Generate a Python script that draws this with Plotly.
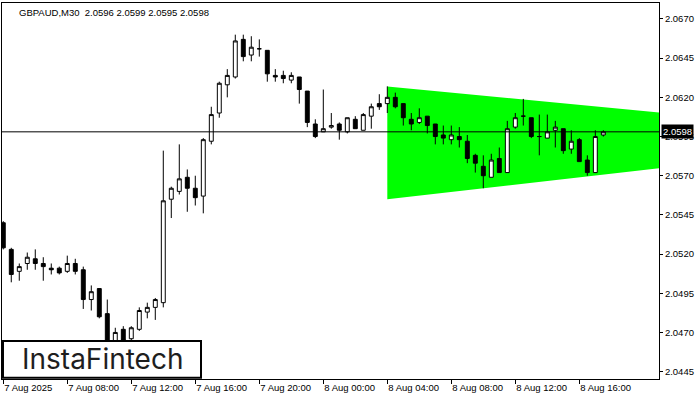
import plotly.graph_objects as go

# ---- data (GBPAUD M30, bars indexed from 7 Aug 04:00) ----
bar_index = list(range(76))

opens = [2.0540, 2.0523, 2.0509, 2.0514, 2.0517, 2.0514, 2.0511, 2.0511, 2.0509, 2.0514,
         2.0510, 2.0491, 2.0498, 2.0482, 2.0463, 2.0472, 2.0466, 2.0472, 2.0483, 2.0486,
         2.0489, 2.0555, 2.0560, 2.0569, 2.0562, 2.0557, 2.0592, 2.0610, 2.0628, 2.0633,
         2.0657, 2.0647, 2.0651, 2.0650, 2.0634, 2.0634, 2.0631, 2.0633, 2.0624, 2.0603,
         2.0598, 2.0601, 2.0603, 2.0598, 2.0606, 2.0599, 2.0608, 2.0616, 2.0616, 2.0620,
         2.0616, 2.0606, 2.0604, 2.0608, 2.0603, 2.0596, 2.0593, 2.0595, 2.0592, 2.0583,
         2.0576, 2.0569, 2.0581, 2.0572, 2.0601, 2.0608, 2.0607, 2.0595, 2.0594, 2.0599,
         2.0600, 2.0587, 2.0593, 2.0580, 2.0572, 2.0596]

highs = [2.0541, 2.0524, 2.0514, 2.0521, 2.0523, 2.0518, 2.0514, 2.0512, 2.0519, 2.0517,
         2.0512, 2.0500, 2.0498, 2.0491, 2.0473, 2.0474, 2.0474, 2.0486, 2.0489, 2.0492,
         2.0586, 2.0563, 2.0590, 2.0574, 2.0570, 2.0594, 2.0614, 2.0630, 2.0638, 2.0660,
         2.0660, 2.0659, 2.0657, 2.0650, 2.0638, 2.0637, 2.0636, 2.0633, 2.0624, 2.0606,
         2.0625, 2.0610, 2.0604, 2.0607, 2.0608, 2.0610, 2.0616, 2.0622, 2.0627, 2.0623,
         2.0616, 2.0610, 2.0613, 2.0608, 2.0603, 2.0602, 2.0602, 2.0601, 2.0596, 2.0584,
         2.0583, 2.0584, 2.0588, 2.0605, 2.0610, 2.0619, 2.0607, 2.0609, 2.0609, 2.0605,
         2.0600, 2.0599, 2.0594, 2.0583, 2.0599, 2.0599]

lows = [2.0523, 2.0502, 2.0503, 2.0510, 2.0510, 2.0503, 2.0507, 2.0507, 2.0508, 2.0507,
        2.0485, 2.0484, 2.0479, 2.0458, 2.0460, 2.0462, 2.0463, 2.0471, 2.0479, 2.0478,
        2.0486, 2.0543, 2.0558, 2.0547, 2.0551, 2.0546, 2.0590, 2.0607, 2.0620, 2.0632,
        2.0643, 2.0643, 2.0646, 2.0630, 2.0630, 2.0629, 2.0629, 2.0616, 2.0601, 2.0594,
        2.0598, 2.0600, 2.0593, 2.0597, 2.0600, 2.0599, 2.0600, 2.0612, 2.0610, 2.0613,
        2.0602, 2.0599, 2.0603, 2.0597, 2.0590, 2.0590, 2.0590, 2.0588, 2.0578, 2.0572,
        2.0562, 2.0569, 2.0572, 2.0572, 2.0600, 2.0602, 2.0594, 2.0583, 2.0594, 2.0588,
        2.0584, 2.0584, 2.0579, 2.0570, 2.0572, 2.0595]

closes = [2.0524, 2.0507, 2.0512, 2.0518, 2.0514, 2.0512, 2.0510, 2.0508, 2.0514, 2.0509,
          2.0491, 2.0496, 2.0480, 2.0462, 2.0470, 2.0465, 2.0473, 2.0484, 2.0486, 2.0491,
          2.0554, 2.0562, 2.0568, 2.0562, 2.0556, 2.0593, 2.0609, 2.0629, 2.0634, 2.0656,
          2.0646, 2.0652, 2.0651, 2.0635, 2.0633, 2.0632, 2.0634, 2.0625, 2.0604, 2.0595,
          2.0600, 2.0602, 2.0599, 2.0607, 2.0600, 2.0609, 2.0614, 2.0614, 2.0620, 2.0614,
          2.0607, 2.0603, 2.0607, 2.0602, 2.0595, 2.0594, 2.0596, 2.0593, 2.0581, 2.0578,
          2.0570, 2.0580, 2.0572, 2.0600, 2.0607, 2.0608, 2.0595, 2.0595, 2.0598, 2.0601,
          2.0586, 2.0592, 2.0579, 2.0572, 2.0595, 2.0598]

# symmetrical triangle pattern boundaries
pattern_x = [48, 82.5]
pattern_upper = [2.0627, 2.0610]
pattern_lower = [2.0555, 2.0575]

current_price = 2.0598

x_tick_vals = [0, 8, 16, 24, 32, 40, 48, 56, 64, 72]
x_tick_text = ["7 Aug 2025", "7 Aug 08:00", "7 Aug 12:00", "7 Aug 16:00", "7 Aug 20:00",
               "8 Aug 00:00", "8 Aug 04:00", "8 Aug 08:00", "8 Aug 12:00", "8 Aug 16:00"]
y_tick_vals = [2.0445, 2.0470, 2.0495, 2.0520, 2.0545, 2.0570, 2.0595, 2.0620, 2.0645, 2.0670]
y_tick_text = ["%.4f" % v for v in y_tick_vals]

FONT = "Liberation Sans"

fig = go.Figure()

fig.add_trace(go.Candlestick(
    x=bar_index, open=opens, high=highs, low=lows, close=closes,
    increasing=dict(fillcolor="white", line=dict(color="black", width=1)),
    decreasing=dict(fillcolor="black", line=dict(color="black", width=1)),
    whiskerwidth=0, showlegend=False))

# triangle drawn as a shape below the candles
tri_path = "M {0},{1} L {2},{3} L {2},{4} L {0},{5} Z".format(
    pattern_x[0], pattern_upper[0], pattern_x[1], pattern_upper[1],
    pattern_lower[1], pattern_lower[0])
fig.add_shape(type="path", path=tri_path, xref="x", yref="y",
              fillcolor="#00ff00", line=dict(width=0), layer="below")

fig.add_shape(type="line", xref="paper", x0=0, x1=1, yref="y",
              y0=current_price, y1=current_price,
              line=dict(color="black", width=1), layer="above")

# logo box
fig.add_shape(type="rect", xref="paper", yref="paper",
              x0=0.0015, x1=0.3029, y0=0.003, y1=0.101,
              fillcolor="white", line=dict(color="black", width=2), layer="above")
fig.add_annotation(text="InstaFintech", xref="paper", yref="paper",
                   x=0.153, y=0.052, xanchor="center", yanchor="middle",
                   showarrow=False, font=dict(family="Inter", size=28, color="#1e1e1e"))

fig.add_annotation(text="GBPAUD,M30  2.0596 2.0599 2.0595 2.0598", xref="paper", yref="paper",
                   x=0.0228, y=0.976, xanchor="left", yanchor="middle", showarrow=False,
                   font=dict(family=FONT, size=9.5, color="black"))

fig.add_annotation(text="%.4f" % current_price, xref="paper", yref="y",
                   x=1, y=current_price, xanchor="left", yanchor="middle", xshift=2,
                   showarrow=False, bgcolor="black", borderpad=1,
                   font=dict(family=FONT, size=9.5, color="white"))

fig.update_layout(
    width=700, height=400,
    margin=dict(l=2, r=41, t=3, b=21),
    paper_bgcolor="white", plot_bgcolor="white",
    boxgap=0.3,
    font=dict(family=FONT, size=9.5, color="black"),
    xaxis=dict(range=[-0.16, 81.96], tickvals=x_tick_vals, ticktext=x_tick_text,
               ticks="outside", ticklen=4, tickcolor="black", showgrid=False,
               zeroline=False, showline=True, linecolor="black", linewidth=1,
               mirror=True, rangeslider=dict(visible=False),
               ticklabelposition="outside right", fixedrange=True),
    yaxis=dict(range=[2.04403, 2.06802], tickvals=y_tick_vals, ticktext=y_tick_text,
               side="right", ticks="outside", ticklen=3, tickcolor="black",
               showgrid=False, zeroline=False, showline=True, linecolor="black",
               linewidth=1, mirror=True),
)

fig.write_html("out.html", config={"displayModeBar": False},
               post_script="document.body.style.margin='0';")
